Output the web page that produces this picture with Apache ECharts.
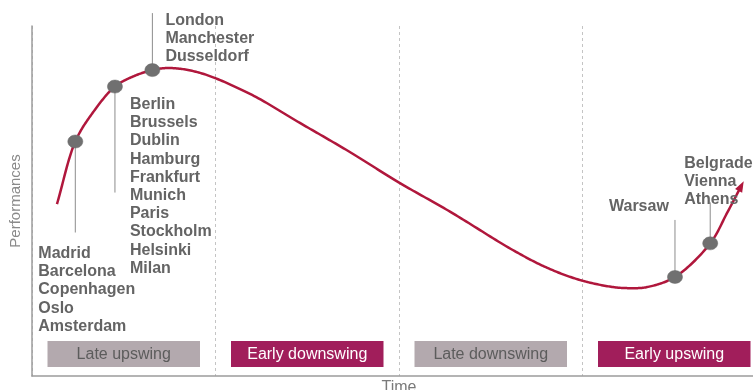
<!DOCTYPE html>
<html>
<head>
<meta charset="utf-8">
<script src="https://cdn.jsdelivr.net/npm/echarts@6/dist/echarts.min.js"></script>
<style>
  html, body { margin: 0; padding: 0; background: #fff; }
  #chart { width: 753px; height: 390px; }
</style>
</head>
<body>
<div id="chart"></div>
<script>
// Property market cycle: performance over time
const timeVals = [3.4, 5.9, 8.2, 11.3, 13.8, 16.4, 18.8, 22.9, 29.7, 36.5, 43.3, 49.9,
  57.0, 65.5, 70.2, 74.7, 79.2, 81.5, 83.8, 87.6, 92.4, 94.7, 96.9];
const perfVals = [49.1, 67.0, 75.0, 82.7, 85.6, 87.4, 88.0, 86.6, 80.6, 72.3, 64.0, 55.4,
  46.9, 36.0, 30.9, 27.4, 25.4, 25.1, 25.4, 28.3, 37.9, 46.6, 55.4];

// Cities grouped by the point of the cycle they sit on (index into the curve)
const clusterIdx = [1, 3, 5, 19, 20];
const clusterCities = [
  ['Madrid', 'Barcelona', 'Copenhagen', 'Oslo', 'Amsterdam'],
  ['Berlin', 'Brussels', 'Dublin', 'Hamburg', 'Frankfurt', 'Munich', 'Paris', 'Stockholm', 'Helsinki', 'Milan'],
  ['London', 'Manchester', 'Dusseldorf'],
  ['Warsaw'],
  ['Belgrade', 'Vienna', 'Athens']
];

// Cycle phases along the time axis
const phaseNames = ['Late upswing', 'Early downswing', 'Late downswing', 'Early upswing'];
const phaseBounds = [0, 25, 50, 75, 100];

// Callout layout: leader length and text-block offset, in pixels from the marker
const calloutLayout = [
  { leader: 91, dx: -37, dy: 103 },
  { leader: 106, dx: 15, dy: 9 },
  { leader: -57, dx: 13, dy: -59 },
  { leader: -57, dx: -66, dy: -79 },
  { leader: -41, dx: -26, dy: -89 }
];

const CURVE = '#b0173c';
const GREY_BOX = '#b3a9ae';
const CRIMSON_BOX = '#a11e5b';
const FONT = '"Liberation Sans", Arial, sans-serif';

const curveData = timeVals.map((t, i) => [t, perfVals[i]]);
const clusterData = clusterIdx.map((ci, k) => [timeVals[ci], perfVals[ci], k]);
const phaseData = phaseNames.map((n, i) => [phaseBounds[i], phaseBounds[i + 1], i]);

// Centripetal Catmull-Rom through pixel points, returned as a dense polyline
function splinePoints(pts, steps) {
  const out = [];
  const n = pts.length;
  const ext = (a, b) => [2 * a[0] - b[0], 2 * a[1] - b[1]];
  const tj = (ti, a, b) => ti + Math.pow(Math.hypot(b[0] - a[0], b[1] - a[1]), 0.5) || ti + 1e-6;
  for (let i = 0; i < n - 1; i++) {
    const p0 = i > 0 ? pts[i - 1] : ext(pts[0], pts[1]);
    const p1 = pts[i], p2 = pts[i + 1];
    const p3 = i + 2 < n ? pts[i + 2] : ext(pts[n - 1], pts[n - 2]);
    const t0 = 0, t1 = tj(t0, p0, p1), t2 = tj(t1, p1, p2), t3 = tj(t2, p2, p3);
    for (let s = 0; s < steps; s++) {
      const t = t1 + (t2 - t1) * s / steps;
      const lerp = (a, b, ta, tb) => [
        ((tb - t) * a[0] + (t - ta) * b[0]) / (tb - ta),
        ((tb - t) * a[1] + (t - ta) * b[1]) / (tb - ta)
      ];
      const A1 = lerp(p0, p1, t0, t1), A2 = lerp(p1, p2, t1, t2), A3 = lerp(p2, p3, t2, t3);
      const B1 = lerp(A1, A2, t0, t2), B2 = lerp(A2, A3, t1, t3);
      out.push(lerp(B1, B2, t1, t2));
    }
  }
  out.push(pts[n - 1]);
  return out;
}

const chart = echarts.init(document.getElementById('chart'), null, { renderer: 'canvas' });

chart.setOption({
  animation: false,
  backgroundColor: '#fff',
  grid: { left: 32, right: -13, top: 26, bottom: 14, containLabel: false, outerBoundsMode: 'none' },
  xAxis: {
    type: 'value', min: 0, max: 100, interval: 25,
    name: 'Time', nameLocation: 'middle', nameGap: 4,
    nameTextStyle: { color: '#7a7a7a', fontSize: 16, fontFamily: FONT, verticalAlign: 'top' },
    axisLine: { show: true, lineStyle: { color: '#9c9c9c', width: 1.5 } },
    axisTick: { show: false }, axisLabel: { show: false },
    splitLine: { show: true, lineStyle: { color: '#c4c4c4', type: [3, 3], width: 1 } }
  },
  yAxis: {
    type: 'value', min: 0, max: 100,
    name: 'Performances', nameLocation: 'middle', nameGap: 9,
    nameTextStyle: { color: '#8a8a8a', fontSize: 15, fontFamily: FONT },
    axisLine: { show: true, lineStyle: { color: '#9c9c9c', width: 1.5 } },
    axisTick: { show: false }, axisLabel: { show: false },
    splitLine: { show: false }
  },
  series: [
    {
      // phase boxes along the bottom
      type: 'custom', z: 1, silent: true,
      data: phaseData,
      renderItem: (params, api) => {
        const i = api.value(2);
        const a = api.coord([api.value(0), 2.6]);
        const b = api.coord([api.value(1), 10]);
        const x0 = a[0] + 15.5, x1 = b[0] - 15.5;
        const dark = i % 2 === 1;
        return {
          type: 'group',
          children: [
            { type: 'rect', shape: { x: x0, y: b[1], width: x1 - x0, height: a[1] - b[1] },
              style: { fill: dark ? CRIMSON_BOX : GREY_BOX } },
            { type: 'text',
              style: { x: (x0 + x1) / 2, y: (a[1] + b[1]) / 2 + 0.5, text: phaseNames[i],
                align: 'center', verticalAlign: 'middle',
                fill: dark ? '#ffffff' : '#5c5c5c', font: '16px ' + FONT } }
          ]
        };
      }
    },
    {
      // the cycle curve, splined through the data points, with an arrowhead at the end
      type: 'custom', z: 2, silent: true,
      data: curveData,
      renderItem: (params, api) => {
        if (params.dataIndex !== 0) return null;
        const px = curveData.map(d => api.coord(d));
        const poly = splinePoints(px, 24);
        const n = poly.length;
        const tip = poly[n - 1];
        // direction of the curve near the tip
        const back = poly[n - 8];
        const dx = tip[0] - back[0], dy = tip[1] - back[1];
        const len = Math.hypot(dx, dy);
        const ux = dx / len, uy = dy / len;
        const L = 10, W = 4;
        const bx = tip[0] - ux * L, by = tip[1] - uy * L;
        // stop the stroke at the arrow base
        const body = poly.filter(p => (p[0] - tip[0]) * ux + (p[1] - tip[1]) * uy < -L + 2);
        return {
          type: 'group',
          children: [
            { type: 'polyline', shape: { points: body },
              style: { stroke: CURVE, lineWidth: 2.5, fill: null, lineJoin: 'round' } },
            { type: 'polygon',
              shape: { points: [[tip[0] + ux, tip[1] + uy], [bx - uy * W, by + ux * W], [bx + uy * W, by - ux * W]] },
              style: { fill: CURVE } }
          ]
        };
      }
    },
    {
      // city callouts: leader line, marker and city names
      type: 'custom', z: 4, silent: true,
      data: clusterData,
      renderItem: (params, api) => {
        const k = api.value(2);
        const c = api.coord([api.value(0), api.value(1)]);
        const lay = calloutLayout[k];
        return {
          type: 'group',
          children: [
            { type: 'line', shape: { x1: c[0], y1: c[1], x2: c[0], y2: c[1] + lay.leader },
              style: { stroke: '#8c8c8c', lineWidth: 1 } },
            { type: 'ellipse', shape: { cx: c[0], cy: c[1], rx: 7.5, ry: 6.5 },
              style: { fill: '#707070', stroke: '#6a6a6a', lineWidth: 0.5 } },
            { type: 'text',
              style: { x: c[0] + lay.dx, y: c[1] + lay.dy, text: clusterCities[k].join('\n'),
                align: 'left', verticalAlign: 'top', lineHeight: 18.2,
                fill: '#646464', font: 'bold 16px ' + FONT } }
          ]
        };
      }
    }
  ]
});
</script>
</body>
</html>
